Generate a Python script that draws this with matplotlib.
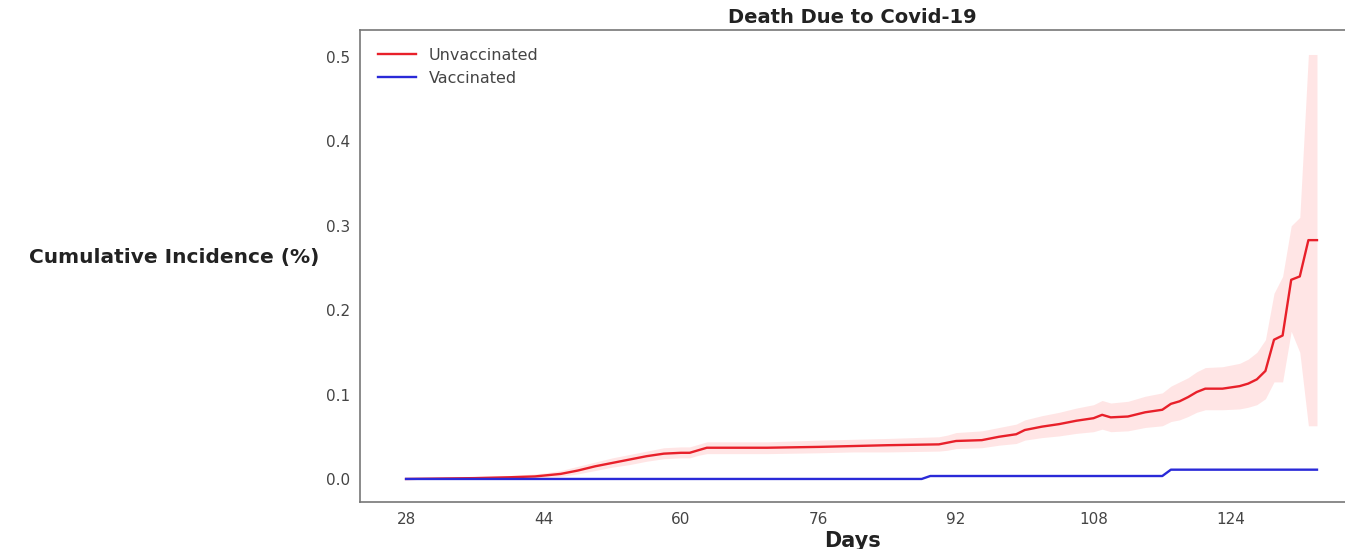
import numpy as np
import matplotlib
matplotlib.use("Agg")
import matplotlib.pyplot as plt

# unvaccinated cumulative incidence (%) with CI band
days_u = [28, 36, 40, 43, 44, 46, 48, 50, 52, 54, 56, 58, 60, 61, 62, 63, 70, 76, 80, 84, 90,
          91, 92, 95, 97, 99, 100, 102, 104, 106, 108, 109, 110, 112, 114, 116, 117, 118, 119, 120, 121,
          123, 125, 126, 127, 128, 129, 130, 131, 132, 133, 134]
inc_u = [0.0, 0.001, 0.002, 0.003, 0.004, 0.006, 0.010, 0.015, 0.019, 0.023, 0.027, 0.030, 0.031, 0.031, 0.034, 0.037, 0.037, 0.038, 0.039, 0.040, 0.041,
         0.043, 0.045, 0.046, 0.050, 0.053, 0.058, 0.062, 0.065, 0.069, 0.072, 0.076, 0.073, 0.074, 0.079, 0.082, 0.089, 0.092, 0.097, 0.103, 0.107,
         0.107, 0.110, 0.113, 0.118, 0.128, 0.165, 0.170, 0.236, 0.240, 0.283, 0.283]
lo_u = [0.0, 0.0, 0.0, 0.001, 0.002, 0.003, 0.006, 0.010, 0.014, 0.017, 0.021, 0.024, 0.025, 0.025, 0.028, 0.030, 0.030, 0.031, 0.032, 0.032, 0.033,
        0.034, 0.036, 0.037, 0.040, 0.042, 0.046, 0.049, 0.051, 0.054, 0.056, 0.059, 0.056, 0.057, 0.061, 0.063, 0.068, 0.070, 0.074, 0.079, 0.082,
        0.082, 0.083, 0.085, 0.088, 0.095, 0.115, 0.115, 0.175, 0.150, 0.063, 0.063]
hi_u = [0.001, 0.003, 0.004, 0.006, 0.007, 0.010, 0.015, 0.020, 0.025, 0.029, 0.033, 0.037, 0.038, 0.038, 0.041, 0.044, 0.044, 0.046, 0.047, 0.048, 0.050,
        0.052, 0.055, 0.057, 0.061, 0.065, 0.070, 0.075, 0.079, 0.084, 0.088, 0.093, 0.090, 0.092, 0.098, 0.102, 0.110, 0.115, 0.120, 0.127, 0.132,
        0.133, 0.137, 0.142, 0.150, 0.165, 0.220, 0.240, 0.300, 0.310, 0.503, 0.503]

# vaccinated
days_v = [28, 40, 60, 80, 88, 89, 100, 115, 116, 117, 125, 134]
inc_v = [0.0, 0.0, 0.0, 0.0, 0.0, 0.0035, 0.0035, 0.0035, 0.0035, 0.011, 0.011, 0.011]

fig = plt.figure(figsize=(13.45, 5.49), dpi=100)
ax = fig.add_axes([360 / 1345, 47 / 549, 985 / 1345, 472 / 549])

ax.fill_between(days_u, lo_u, hi_u, color='#ff9999', alpha=0.25, linewidth=0)
ax.plot(days_u, inc_u, color='#e8202a', linewidth=1.7, label='Unvaccinated')
ax.plot(days_v, inc_v, color='#2a2ad8', linewidth=1.7, label='Vaccinated')

ax.set_xlim(22.64, 137.26)
ax.set_ylim(-0.0273, 0.532)
ax.set_xticks(np.arange(28, 125, 16))
ax.set_yticks([0.0, 0.1, 0.2, 0.3, 0.4, 0.5])
ax.tick_params(length=0, labelsize=11, labelcolor='#444444', pad=7)

for s in ['top', 'left', 'bottom']:
    ax.spines[s].set_color('#777777')
    ax.spines[s].set_linewidth(1.2)
ax.spines['right'].set_visible(False)

ax.set_title('Death Due to Covid-19', fontsize=14, fontweight='bold', color='#222222', pad=5)
ax.set_xlabel('Days', fontsize=15, fontweight='bold', color='#222222', labelpad=3)
ax.set_ylabel('Cumulative Incidence (%)', fontsize=14.5, fontweight='bold', color='#222222',
              rotation=0, ha='right', va='center')
ax.yaxis.set_label_coords(-0.041, 0.519)

ax.legend(loc='upper left', frameon=False, fontsize=11.5, labelcolor='#444444', handlelength=2.4,
          borderaxespad=0.7)

fig.savefig('out.png', dpi=100)
